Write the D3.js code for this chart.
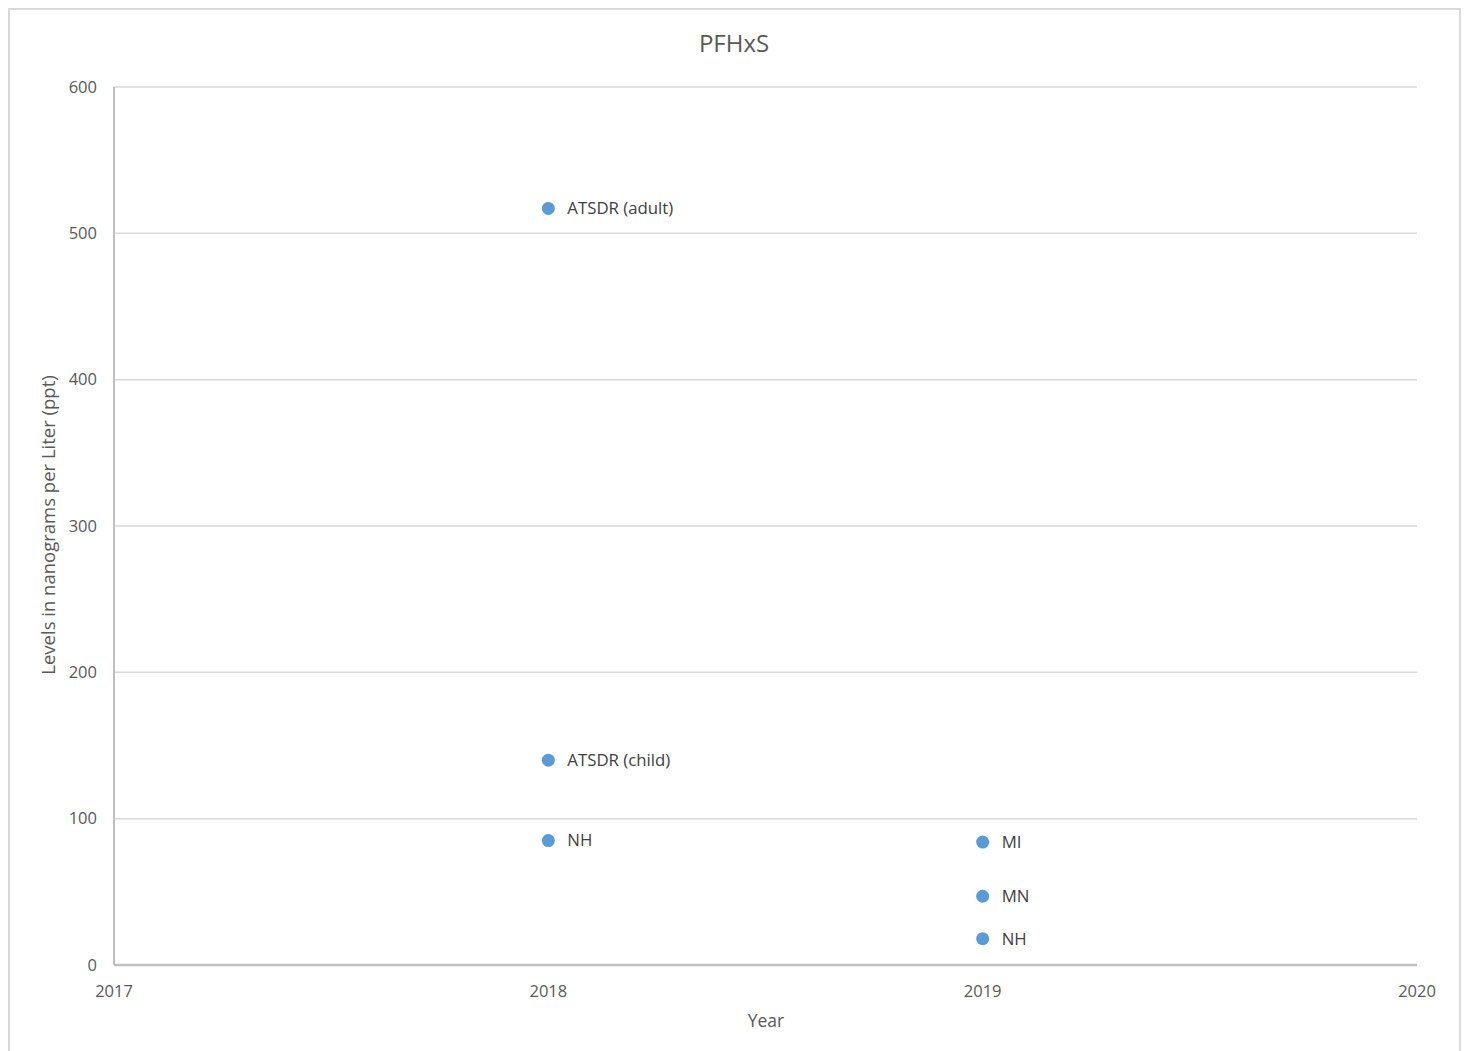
<!DOCTYPE html>
<html><head><meta charset="utf-8">
<script src="https://cdn.jsdelivr.net/npm/d3@7"></script>
<style>body{margin:0;background:#fff;} text{font-family:"Open Sans",sans-serif;}</style>
</head><body>
<svg id="c" width="1465" height="1051"></svg>
<script>
const years = [2018, 2018, 2018, 2019, 2019, 2019];
const values = [517, 140, 85, 84, 47, 18];
const labels = ["ATSDR (adult)", "ATSDR (child)", "NH", "MI", "MN", "NH"];
const xTicks = [2017, 2018, 2019, 2020];
const yTicks = [0, 100, 200, 300, 400, 500, 600];

const svg = d3.select("#c");
svg.append("rect").attr("x", 9).attr("y", 9).attr("width", 1451).attr("height", 1050)
  .attr("fill", "#fff").attr("stroke", "#d9d9d9").attr("stroke-width", 2);

const x = d3.scaleLinear().domain([2017, 2020]).range([114, 1417]);
const y = d3.scaleLinear().domain([0, 600]).range([965, 87]);

// gridlines
svg.append("g").selectAll("line").data(yTicks.filter(d => d > 0)).join("line")
  .attr("x1", x(2017)).attr("x2", x(2020)).attr("y1", d => y(d)).attr("y2", d => y(d))
  .attr("stroke", "#d9d9d9").attr("stroke-width", 1.5);

// axes lines
svg.append("line").attr("x1", x(2017)).attr("x2", x(2017)).attr("y1", y(600)).attr("y2", y(0))
  .attr("stroke", "#bfbfbf").attr("stroke-width", 2);
svg.append("line").attr("x1", x(2017)).attr("x2", x(2020)).attr("y1", y(0)).attr("y2", y(0))
  .attr("stroke", "#bfbfbf").attr("stroke-width", 2.5);

// y tick labels
svg.append("g").selectAll("text").data(yTicks).join("text")
  .attr("x", 97).attr("y", d => y(d)).attr("dy", "0.35em").attr("text-anchor", "end")
  .attr("font-size", 16.5).attr("fill", "#595959").text(d => d);

// x tick labels
svg.append("g").selectAll("text").data(xTicks).join("text")
  .attr("x", d => x(d)).attr("y", 991).attr("dy", "0.35em").attr("text-anchor", "middle")
  .attr("font-size", 16.5).attr("fill", "#595959").text(d => d);

// title
svg.append("text").attr("x", 734).attr("y", 44).attr("dy", "0.35em").attr("text-anchor", "middle")
  .attr("font-size", 24).attr("fill", "#595959").text("PFHxS");

// axis titles
svg.append("text").attr("x", 766).attr("y", 1021).attr("dy", "0.35em").attr("text-anchor", "middle")
  .attr("font-size", 17.5).attr("fill", "#595959").text("Year");
svg.append("text").attr("transform", `translate(49,${y(300) - 1}) rotate(-90)`).attr("dy", "0.35em")
  .attr("text-anchor", "middle").attr("font-size", 18.5).attr("fill", "#595959")
  .text("Levels in nanograms per Liter (ppt)");

const data = years.map((yr, i) => ({yr, v: values[i], l: labels[i]}));
svg.append("g").selectAll("circle").data(data).join("circle")
  .attr("cx", d => x(d.yr)).attr("cy", d => y(d.v)).attr("r", 6.5).attr("fill", "#5b9bd5");
svg.append("g").selectAll("text").data(data).join("text")
  .attr("x", d => x(d.yr) + 19).attr("y", d => y(d.v)).attr("dy", "0.35em")
  .attr("font-size", 16.8).attr("fill", "#404040").text(d => d.l);
</script>
</body></html>
